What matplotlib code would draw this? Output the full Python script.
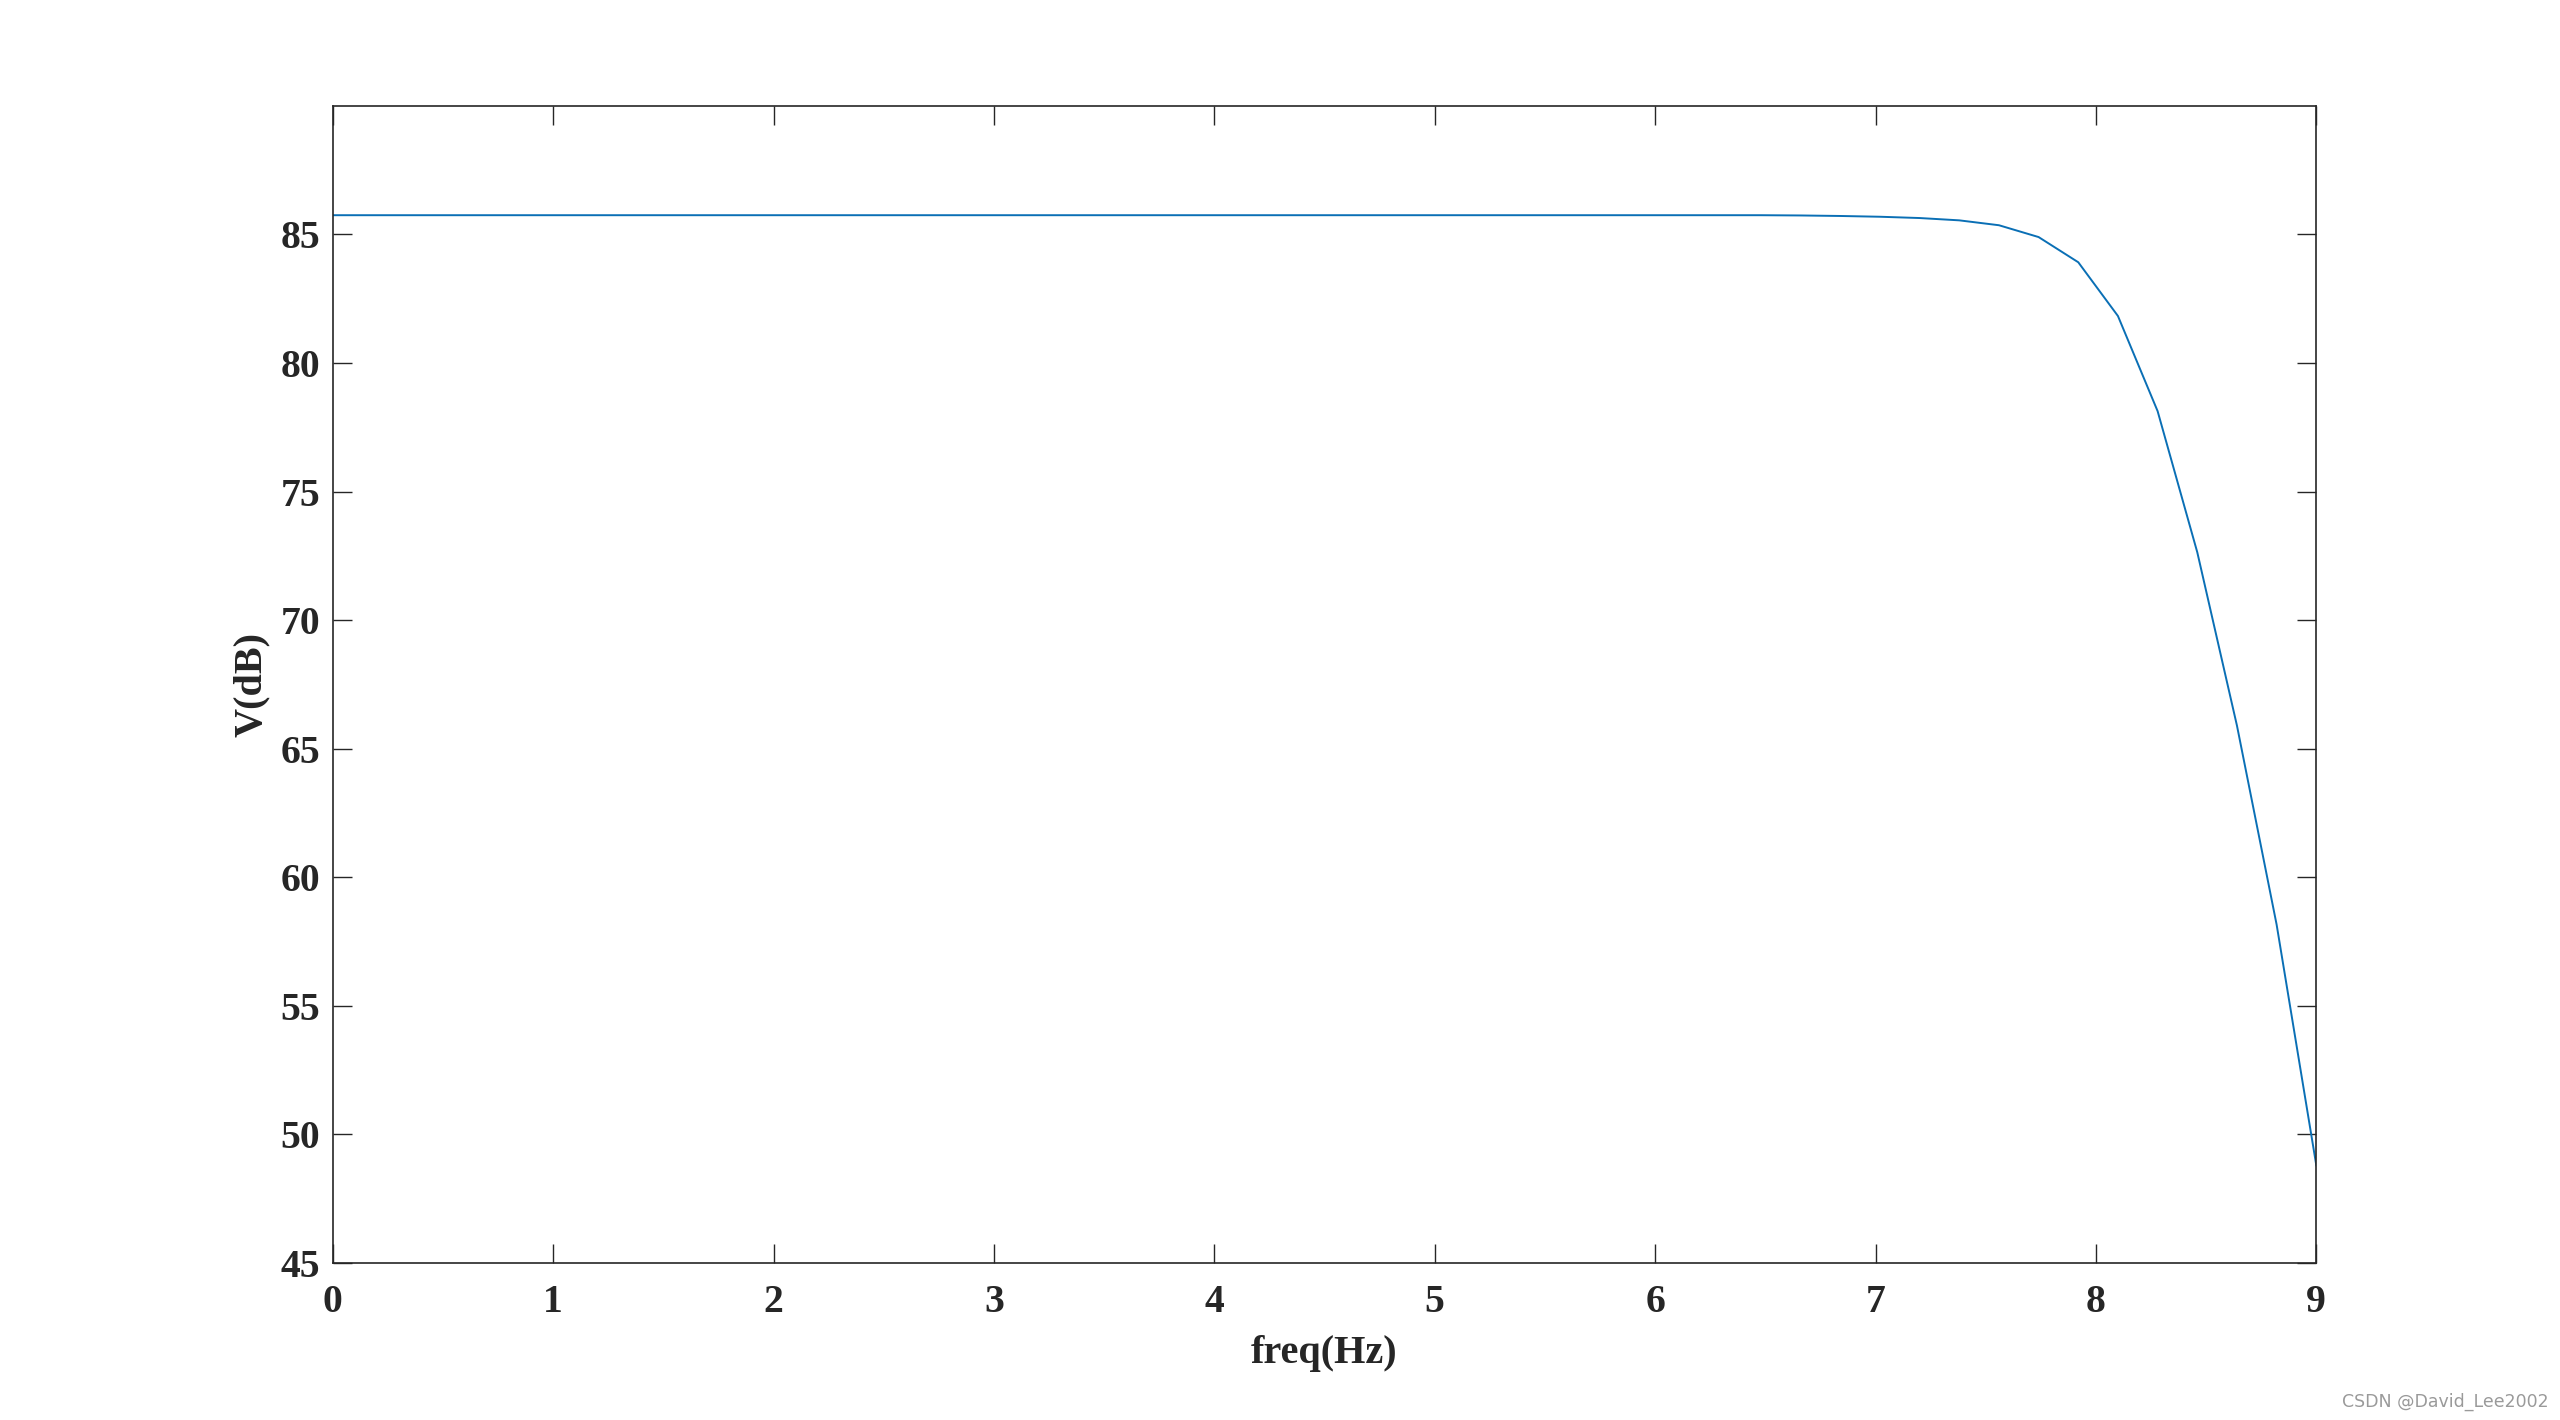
"""Filter magnitude response, MATLAB-style figure."""

import matplotlib

matplotlib.use("Agg")

import matplotlib.pyplot as plt  # noqa: E402

# frequency grid (Hz), 0:0.18:9
freq = [
    0.00, 0.18, 0.36, 0.54, 0.72, 0.90, 1.08, 1.26, 1.44, 1.62,
    1.80, 1.98, 2.16, 2.34, 2.52, 2.70, 2.88, 3.06, 3.24, 3.42,
    3.60, 3.78, 3.96, 4.14, 4.32, 4.50, 4.68, 4.86, 5.04, 5.22,
    5.40, 5.58, 5.76, 5.94, 6.12, 6.30, 6.48, 6.66, 6.84, 7.02,
    7.20, 7.38, 7.56, 7.74, 7.92, 8.10, 8.28, 8.46, 8.64, 8.82,
    9.00,
]
# magnitude (dB)
v_db = [
    85.75, 85.75, 85.75, 85.75, 85.75, 85.75, 85.75, 85.75, 85.75, 85.75,
    85.75, 85.75, 85.75, 85.75, 85.75, 85.75, 85.75, 85.75, 85.75, 85.75,
    85.75, 85.75, 85.75, 85.75, 85.75, 85.75, 85.75, 85.75, 85.75, 85.75,
    85.75, 85.75, 85.75, 85.75, 85.75, 85.75, 85.75, 85.74, 85.72, 85.69,
    85.64, 85.55, 85.36, 84.90, 83.92, 81.83, 78.13, 72.64, 65.90, 58.16,
    48.80,
]
x_ticks = [0, 1, 2, 3, 4, 5, 6, 7, 8, 9]
y_ticks = [45, 50, 55, 60, 65, 70, 75, 80, 85]

plt.rcParams["font.family"] = ["Liberation Serif", "DejaVu Serif"]

fig = plt.figure(figsize=(25.6, 14.2), dpi=100)
ax = fig.add_axes([0.130, 0.1106, 0.7748, 0.8148])

ax.plot(freq, v_db, color="#0a6fb5", linewidth=1.4)

ax.set_xlim(0, 9)
ax.set_ylim(45, 90)
ax.set_xticks(x_ticks)
ax.set_yticks(y_ticks)
ax.tick_params(direction="in", length=13.5, width=1.0, color="#262626",
               labelsize=28.5, labelcolor="#262626", top=True, right=True)
ax.tick_params(axis="x", pad=15)
ax.tick_params(axis="y", pad=9)
for lab in ax.get_xticklabels() + ax.get_yticklabels():
    lab.set_fontweight("bold")
for sp in ax.spines.values():
    sp.set_linewidth(1.2)
    sp.set_color("#262626")

ax.set_xlabel("freq(Hz)", fontsize=29, fontweight="bold", color="#262626", labelpad=10)
ax.set_ylabel("V(dB)", fontsize=29, fontweight="bold", color="#262626", labelpad=8)

fig.text(0.9955, 0.0127, "CSDN @David_Lee2002", ha="right", va="center",
         fontsize=12.5, fontweight="normal", color="#9a9a9a",
         family=["DejaVu Sans"])

fig.savefig("out.png", dpi=100)
plt.close(fig)
